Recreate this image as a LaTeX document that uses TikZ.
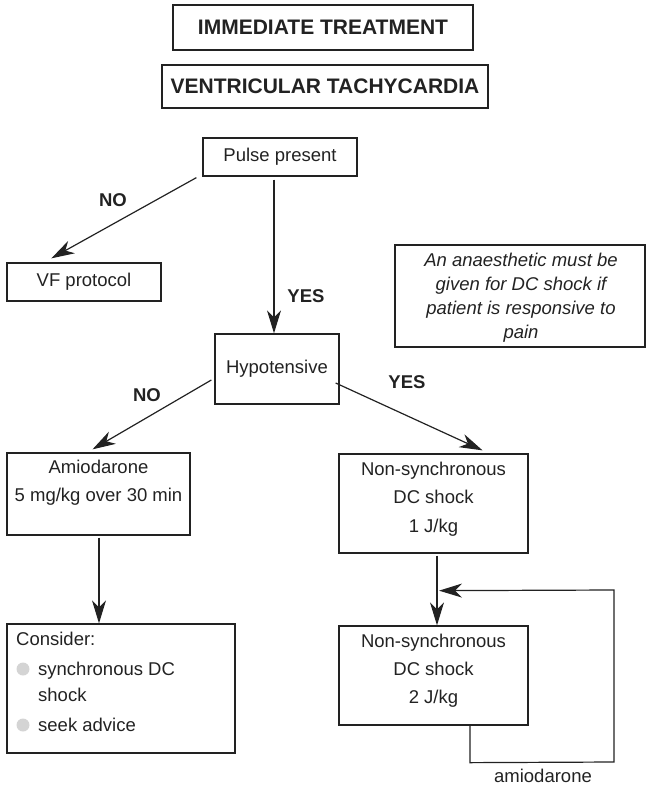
\documentclass[tikz,border=0pt]{standalone}
\usepackage{fontspec}
\setmainfont{Liberation Sans}
\usetikzlibrary{arrows.meta,calc}
\definecolor{ink}{HTML}{222222}
\definecolor{dotgrey}{HTML}{D4D4D4}
\begin{document}
\begin{tikzpicture}[x=1pt,y=-1pt,
  box/.style={draw=ink, line width=1.3pt, inner sep=0pt},
  titlebox/.style={draw=ink, line width=1.8pt, inner sep=0pt, text=ink,
    font=\fontsize{21}{25}\selectfont\bfseries},
  txt/.style={font=\fontsize{18.5}{24}\selectfont, text=ink, inner sep=0pt, align=center},
  ans/.style={font=\fontsize{18.5}{22}\selectfont\bfseries, text=ink, inner sep=0pt},
  link/.style={draw=ink, line width=1.2pt, -{Stealth[length=23pt,width=14pt,inset=7pt]}},
  bullet/.style={circle, fill=dotgrey, minimum size=13pt, inner sep=0pt},
]
\useasboundingbox (0,0) rectangle (646,785);

% headings
\node[titlebox, minimum width=300, minimum height=45] (t1) at (323,27.5) {IMMEDIATE TREATMENT};
\node[titlebox, minimum width=326, minimum height=43] (t2) at (325,86.5) {VENTRICULAR TACHYCARDIA};

% decision and action boxes
\node[box, minimum width=154, minimum height=38] (pulse) at (280,157) {};
\node[txt] (pulsetxt) at (280,157) {Pulse present};

\node[box, minimum width=154, minimum height=38] (vf) at (84,282) {};
\node[txt] (vftxt) at (84,282) {VF protocol};

\node[box, minimum width=250, minimum height=102] (note) at (520,296) {};
\node[txt, font=\fontsize{18.5}{24}\selectfont\itshape] (notetxt) at (521,298)
  {An anaesthetic must be\\ given for DC shock if\\ patient is responsive to\\ pain};

\node[box, minimum width=124, minimum height=70] (hyp) at (277,369) {};
\node[txt] (hyptxt) at (277,369) {Hypotensive};

\node[box, minimum width=183, minimum height=82] (amio) at (98.5,494) {};
\node[txt, font=\fontsize{18.5}{28}\selectfont] (amiotxt) at (98.5,483) {Amiodarone\\ 5 mg/kg over 30 min};

\node[box, minimum width=189, minimum height=99] (ns1) at (433.5,503.5) {};
\node[txt, font=\fontsize{18.5}{28.5}\selectfont] (ns1txt) at (433.5,499) {Non-synchronous\\ DC shock\\ 1 J/kg};

\node[box, minimum width=189, minimum height=99] (ns2) at (433.5,675.5) {};
\node[txt, font=\fontsize{18.5}{28}\selectfont] (ns2txt) at (433.5,670.5) {Non-synchronous\\ DC shock\\ 2 J/kg};

\node[box, minimum width=228, minimum height=129] (consider) at (121,688.5) {};
\node[txt, anchor=base west] (c0) at (16,645.5) {Consider:};
\node[bullet] (b1) at (23,669) {};
\node[txt, anchor=base west] (c1) at (38,675.5) {synchronous DC};
\node[txt, anchor=base west] (c2) at (38,701.5) {shock};
\node[bullet] (b2) at (23,725) {};
\node[txt, anchor=base west] (c3) at (38,731.5) {seek advice};

% branch labels
\node[ans] (no1) at (113,200) {NO};
\node[ans] (yes1) at (306,296) {YES};
\node[ans] (no2) at (147,395) {NO};
\node[ans] (yes2) at (407,382) {YES};
\node[txt] (amiolbl) at (543,776) {amiodarone};

% connectors
\draw[link] ($(pulse.south west)+(-6,1)$) -- ($(vf.north west)+(45,-4)$);
\draw[link] ($(pulse.south)+(-6,3)$) -- ($(hyp.north)+(-3,0)$);
\draw[link] ($(hyp.west)+(-3,11)$) -- ($(amio.north)+(-6,-3)$);
\draw[link] ($(hyp.east)+(-4,14)$) -- ($(ns1.north)+(49,-3)$);
\draw[link] ($(amio.south)+(0.5,2)$) -- ($(amio.south |- consider.north)+(0.5,0)$);
\draw[link] ($(ns1.south)+(3.5,2)$) -- ($(ns2.north)+(3.5,0)$);

% repeat loop with amiodarone
\coordinate (loopin) at ($(ns1.south)+(5.5,37)$);
\coordinate (loopbl) at ($(ns2.south)+(36.5,37)$);
\coordinate (loopbr) at (614,762);
\coordinate (looptr) at (614,590);
\draw[link] ($(ns2.south)+(36.5,0)$) -- (loopbl) -- (loopbr) -- (looptr) -- (loopin);
\end{tikzpicture}
\end{document}
